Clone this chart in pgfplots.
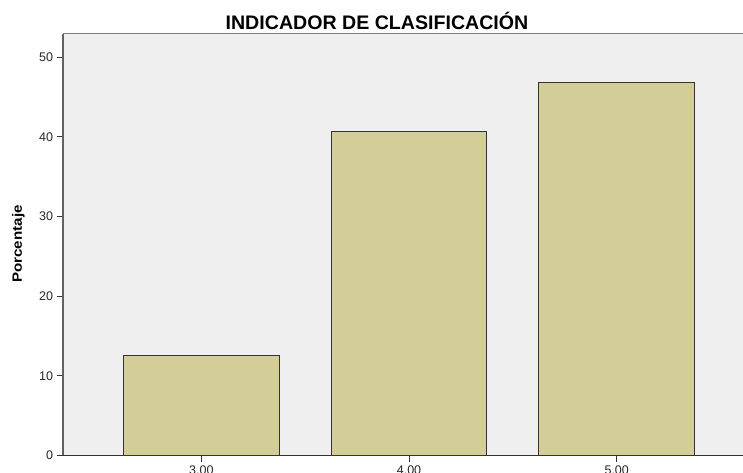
\documentclass[border=0pt]{standalone}
\usepackage{fontspec}
\setmainfont{Liberation Sans}
\usepackage{pgfplots}
\pgfplotsset{compat=1.18}
\definecolor{plotbg}{RGB}{239,239,239}
\definecolor{barfill}{RGB}{211,206,152}
\definecolor{baredge}{RGB}{51,51,51}
\begin{document}
\begin{tikzpicture}[x=1pt,y=1pt]
\begin{axis}[
  at={(63pt,17.5pt)}, anchor=south west,
  scale only axis, width=680pt, height=421.5pt,
  xmin=2.334, xmax=5.608, ymin=0, ymax=52.9,
  axis lines*=left,
  axis background/.style={fill=plotbg},
  x axis line style={draw=baredge, line width=1pt},
  y axis line style={draw=black!62, line width=1.3pt},
  xtick={3,4,5}, xticklabels={3.00,4.00,5.00},
  ytick={0,10,20,30,40,50},
  tick align=outside, major tick length=6.5pt,
  every tick/.style={draw=baredge, line width=1pt},
  tick label style={font=\fontsize{12.5}{12.5}\selectfont, text=black!85},
  /pgf/number format/assume math mode=true,
  ybar, bar width=155.6pt,
  clip=false,
]
\addplot[fill=barfill, draw=baredge, line width=1pt] coordinates {(3,12.5) (4,40.625) (5,46.875)};
\draw[draw=black!50, line width=1pt] (rel axis cs:0,1) -- (rel axis cs:1,1);
\end{axis}
\node[anchor=base, font=\bfseries\fontsize{19.6}{19.6}\selectfont] at (377,443) {INDICADOR DE CLASIFICACIÓN};
\node[rotate=90, font=\bfseries\fontsize{13.5}{13.5}\selectfont] at (18.5,229) {\scalebox{1.12}[1]{Porcentaje}};
\pgfresetboundingbox
\useasboundingbox (0,0) rectangle (743,473);
\end{tikzpicture}
\end{document}
